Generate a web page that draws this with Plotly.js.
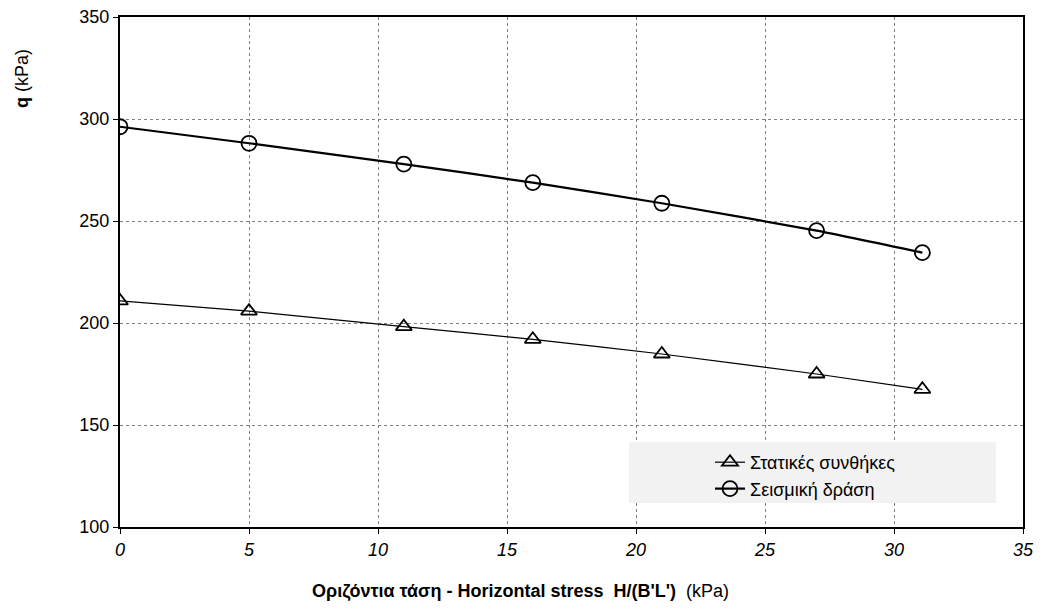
<!DOCTYPE html>
<html><head><meta charset="utf-8">
<script src="https://cdn.plot.ly/plotly-3.0.1.min.js"></script>
<style>body{margin:0;background:#fff}#chart{width:1044px;height:609px}</style>
</head><body><div id="chart"></div>
<script>
const xStatic = [0, 5, 11, 16, 21, 27, 31.1];
const yStatic = [210.8, 205.8, 198.2, 192.0, 184.8, 175.0, 167.5];
const xSeismic = [0, 5, 11, 16, 21, 27, 31.1];
const ySeismic = [296.2, 288.1, 277.9, 268.8, 258.7, 245.3, 234.5];
const nameStatic = 'Στατικές συνθήκες';
const nameSeismic = 'Σεισμική δράση';
const xTicks = [0, 5, 10, 15, 20, 25, 30, 35];
const yTicks = [100, 150, 200, 250, 300, 350];

const F = 'Arial, "Liberation Sans", sans-serif';
const traces = [
  {x: xStatic, y: yStatic, name: nameStatic, type: 'scatter', mode: 'lines+markers',
   line: {color: '#000', width: 1.2, shape: 'spline', smoothing: 0.6},
   marker: {symbol: 'triangle-up-open', size: 14, color: '#000', line: {width: 1.8, color: '#000'}}},
  {x: xSeismic, y: ySeismic, name: nameSeismic, type: 'scatter', mode: 'lines+markers',
   line: {color: '#000', width: 2.2, shape: 'spline', smoothing: 0.6},
   marker: {symbol: 'circle-open', size: 15, color: '#000', line: {width: 1.8, color: '#000'}}}
];
const layout = {
  width: 1044, height: 609,
  margin: {l: 120, r: 21, t: 17, b: 82},
  paper_bgcolor: '#fff', plot_bgcolor: '#fff',
  showlegend: true,
  legend: {x: (710 - 120) / 903, xanchor: 'left', y: (527 - 444) / 510, yanchor: 'top',
    xref: 'paper', yref: 'paper',
    bgcolor: 'rgba(0,0,0,0)', borderwidth: 0, font: {family: F, size: 18, color: '#000'},
    traceorder: 'normal'},
  shapes: [
    {type: 'rect', xref: 'paper', yref: 'paper', layer: 'above',
     x0: (629 - 120) / 903, x1: (996 - 120) / 903, y0: (527 - 503) / 510, y1: (527 - 442) / 510,
     fillcolor: '#f2f2f2', line: {width: 0}}
  ],
  xaxis: {range: [0, 35], tickvals: xTicks, ticktext: xTicks.map(String),
    showline: true, linecolor: '#000', linewidth: 2, mirror: true,
    ticks: 'outside', ticklen: 5, tickcolor: '#000', tickwidth: 1,
    showgrid: true, gridcolor: '#808080', griddash: '3px,3px', gridwidth: 1,
    zeroline: false,
    tickfont: {family: F, size: 18, color: '#000', style: 'italic'}},
  yaxis: {range: [100, 350], tickvals: yTicks, ticktext: yTicks.map(String),
    showline: true, linecolor: '#000', linewidth: 2, mirror: true,
    ticks: 'outside', ticklen: 5, tickcolor: '#000', tickwidth: 1,
    showgrid: true, gridcolor: '#808080', griddash: '3px,3px', gridwidth: 1,
    zeroline: false,
    tickfont: {family: F, size: 18, color: '#000'}},
  annotations: [
    {text: '<b>Οριζόντια τάση - Horizontal stress  H/(B\'L\')</b>  (kPa)', xref: 'paper', yref: 'paper',
     x: (520 - 120) / 903, y: -64 / 510, xanchor: 'center', yanchor: 'middle', showarrow: false,
     font: {family: F, size: 18, color: '#000'}},
    {text: '<b>q</b> (kPa)', xref: 'paper', yref: 'paper', textangle: -90,
     x: (22 - 120) / 903, y: (527 - 79) / 510, xanchor: 'center', yanchor: 'middle', showarrow: false,
     font: {family: F, size: 18, color: '#000'}}
  ]
};
Plotly.newPlot('chart', traces, layout, {displayModeBar: false, staticPlot: true});
</script></body></html>
